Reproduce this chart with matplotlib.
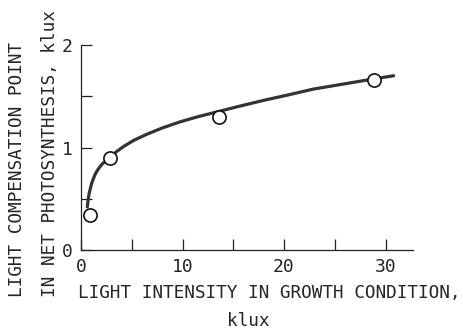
import matplotlib
matplotlib.use("Agg")
import matplotlib.pyplot as plt

# measured points
pts_x = [0.85, 2.83, 13.6, 28.9]
pts_y = [0.34, 0.895, 1.30, 1.66]

# traced fitted curve
curve_x = [0.62, 0.70, 0.80, 0.92, 1.05, 1.2, 1.4, 1.7, 2.1, 2.8, 3.5, 4.2, 5.2, 6.5, 8.0,
           9.75, 11.5, 13.5, 15.7, 18.0, 20.5, 22.9, 25.9, 28.9, 30.8]
curve_y = [0.42, 0.49, 0.55, 0.60, 0.65, 0.69, 0.74, 0.79, 0.84, 0.90, 0.96, 1.01, 1.07, 1.13, 1.19,
           1.25, 1.30, 1.35, 1.405, 1.46, 1.515, 1.57, 1.62, 1.67, 1.70]

x_ticks_major = [0, 10, 20, 30]
x_ticks_minor = [5, 15, 25]
y_ticks_major = [0, 1, 2]
y_ticks_minor = [0.5, 1.5]

FONT = "DejaVu Sans Mono"
TXT = "#262626"
W, H = 463, 331
fig = plt.figure(figsize=(W / 100, H / 100), dpi=100)
left, right, top, bottom = 81, 413, 45, 250
ax = fig.add_axes([left / W, 1 - bottom / H, (right - left) / W, (bottom - top) / H])

ax.plot(curve_x, curve_y, color="#333333", lw=2.3, solid_capstyle="round",
        solid_joinstyle="round", zorder=2)
ax.plot(pts_x, pts_y, "o", ms=9.5, mfc="white", mec="#111111", mew=1.2, zorder=3)

ax.set_xlim(0, (right - left) / 10.15)
ax.set_ylim(0, 2)
for s in ["top", "right"]:
    ax.spines[s].set_visible(False)
for s in ["left", "bottom"]:
    ax.spines[s].set_linewidth(0.9)
    ax.spines[s].set_color("#222222")

ax.set_xticks(x_ticks_major)
ax.set_xticks(x_ticks_minor, minor=True)
ax.set_yticks(y_ticks_major)
ax.set_yticks(y_ticks_minor, minor=True)
ax.set_xticklabels([str(v) for v in x_ticks_major], fontfamily=FONT, fontsize=13)
ax.set_yticklabels([str(v) for v in y_ticks_major], fontfamily=FONT, fontsize=13)
ax.tick_params(axis="both", which="both", direction="in", length=8, width=0.9,
               color="#222222", labelcolor=TXT)
ax.tick_params(axis="x", which="major", pad=6)
ax.tick_params(axis="y", which="major", pad=6)

fig.text(269.5 / W, 1 - 293 / H, "LIGHT INTENSITY IN GROWTH CONDITION,", ha="center",
         va="center", fontfamily=FONT, fontsize=12.8, color=TXT)
fig.text(248 / W, 1 - 321.5 / H, "klux", ha="center", va="center",
         fontfamily=FONT, fontsize=12.8, color=TXT)
fig.text(17 / W, 1 - 297 / H, "LIGHT COMPENSATION POINT", rotation=90, ha="center",
         va="bottom", fontfamily=FONT, fontsize=12.8, color=TXT)
fig.text(50 / W, 1 - 297 / H, "IN NET PHOTOSYNTHESIS, klux", rotation=90, ha="center",
         va="bottom", fontfamily=FONT, fontsize=12.8, color=TXT)

fig.savefig("out.png", dpi=100)
